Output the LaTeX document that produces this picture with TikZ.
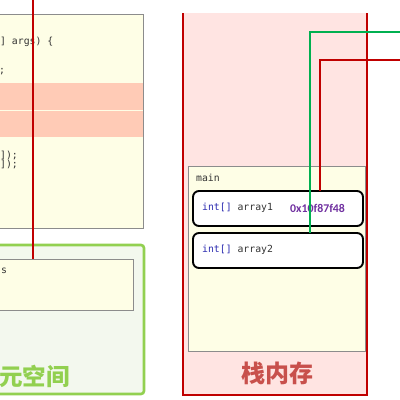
\documentclass[tikz,border=0pt]{standalone}
\usepackage{fontspec}
\setmainfont{Liberation Sans}
\setmonofont{DejaVu Sans Mono}
\newfontfamily\cjk{Noto Sans CJK SC}
\newfontfamily\hexfont{Carlito}
\definecolor{codebg}{HTML}{FEFEE6}
\definecolor{hl}{HTML}{FFCBB6}
\definecolor{mgreen}{HTML}{92D050}
\definecolor{mgreenbg}{HTML}{F3F8EE}
\definecolor{stackbg}{HTML}{FFE4E2}
\definecolor{dred}{HTML}{C00000}
\definecolor{lgreen}{HTML}{00B050}
\definecolor{stacklbl}{HTML}{C8504C}
\definecolor{kw}{HTML}{2A2AB0}
\definecolor{hexc}{HTML}{7030A0}
\definecolor{txt}{HTML}{333333}
\begin{document}
\begin{tikzpicture}[x=1pt,y=-1pt,
  box/.style={anchor=north west,inner sep=0pt,outer sep=0pt},
  codebox/.style={box,draw=gray!90,fill=codebg,line width=0.8pt},
  varbox/.style={box,draw=black,fill=white,line width=1.9pt,rounded corners=6pt,minimum width=170pt,minimum height=35pt},
  code/.style={anchor=base west,inner sep=0pt,font=\ttfamily\fontsize{9.8}{11}\selectfont,text=txt},
  link/.style={line width=2.4pt}]
\useasboundingbox (0,0) rectangle (400,400);
% left code area
\node[codebox,minimum width=150pt,minimum height=214pt] (code) at (-7,14) {};
\fill[hl] (-7,83) rectangle (142.6,109.5);
\fill[hl] (-7,110.6) rectangle (142.6,137);
\node[code] (l1) at (0,44) {] args) \{};
\node[code] (l2) at (-1,73) {;};
\node[code] (l3) at (0,158) {]);};
\node[code] (l4) at (0,167) {]);};
% method area
\node[box,draw=mgreen,fill=mgreenbg,line width=2.6pt,rounded corners=3pt,minimum width=153pt,minimum height=149pt] (meta) at (-9,245) {};
\node[codebox,minimum width=140pt,minimum height=51pt] (inner) at (-7,259) {};
\node[code] (s) at (1,273) {s};
\node[anchor=west,inner sep=0pt,text=mgreen,font=\cjk\bfseries\fontsize{23.5}{25}\selectfont] (metalbl) at (-1,376) {元空间};
% stack
\fill[stackbg] (183,13) rectangle (367,395);
\draw[dred,line width=2.4pt] (183,13) -- (183,395) -- (367,395) -- (367,13);
\node[codebox,minimum width=177pt,minimum height=185pt] (main) at (188,166) {};
\node[code] (mainlbl) at (196,181) {main};
\node[varbox] (array1) at (193,191) {};
\node[varbox] (array2) at (193,233) {};
\node[code] (a1) at (202,210) {\textcolor{kw}{int[]} array1};
\node[code] (a2) at (202,252) {\textcolor{kw}{int[]} array2};
\node[anchor=base west,inner sep=0pt,text=hexc,font=\hexfont\bfseries\fontsize{11.8}{13}\selectfont] (hex) at (290,212) {0x10f87f48};
\node[anchor=center,inner sep=0pt,text=stacklbl,font=\cjk\bfseries\fontsize{24}{26}\selectfont] (stacklbl) at (277,373) {栈内存};
% links
\coordinate (rtop) at (33,0);
\draw[dred,link] (rtop) -- (rtop |- inner.north);
\coordinate (gend) at (402,32);
\coordinate (gx) at (310,0);
\draw[lgreen,link] (gend) -| (gx |- array2.north);
\coordinate (rend) at (402,60);
\coordinate (rx) at (320,0);
\draw[dred,link] (rend) -| (rx |- array1.north);
\end{tikzpicture}
\end{document}
